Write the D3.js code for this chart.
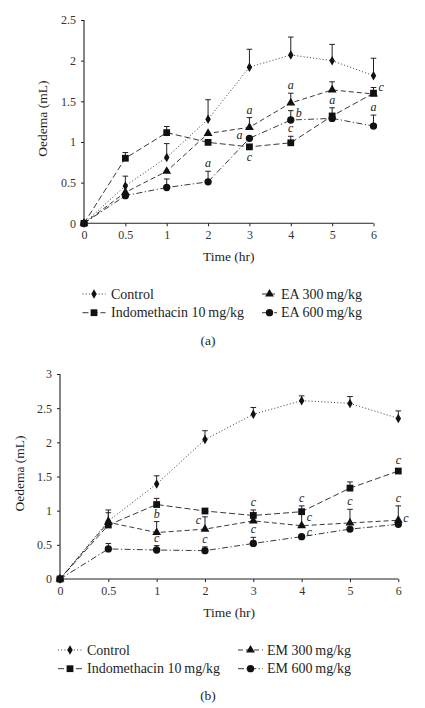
<!DOCTYPE html>
<html><head><meta charset="utf-8">
<script src="https://cdn.jsdelivr.net/npm/d3@7"></script>
<style>body{margin:0;background:#fff}svg{display:block}</style>
</head><body><svg id="c" width="425" height="708"></svg>
<script>
const timeLabels = ["0","0.5","1","2","3","4","5","6"];
const yTicksA = [0,0.5,1,1.5,2,2.5];
const yTicksB = [0,0.5,1,1.5,2,2.5,3];

// Panel (a)
const a_control     = [0,0.46,0.81,1.28,1.92,2.07,2.00,1.815];
const a_control_err = [0,0.12,0.17,0.24,0.22,0.22,0.20,0.215];
const a_indo        = [0,0.80,1.115,0.995,0.94,0.99,1.32,1.60];
const a_indo_err    = [0,0.07,0.075,0,0,0.08,0.10,0.07];
const a_ea300       = [0,0.38,0.64,1.105,1.18,1.48,1.64,1.59];
const a_ea300_err   = [0,0,0,0,0.12,0.12,0.10,0];
const a_ea600       = [0,0.34,0.44,0.51,1.045,1.27,1.29,1.196];
const a_ea600_err   = [0,0,0.105,0.13,0,0.115,0.06,0.135];
const a_names = ["Control","Indomethacin 10\u2009mg/kg","EA 300\u2009mg/kg","EA 600\u2009mg/kg"];
// annotations: [series index, time label, letter, placement]
const a_notes = [[3,"2","a","above"],[2,"3","a","above"],[3,"3","a","left"],[1,"3","c","below"],
  [2,"4","a","above"],[3,"4","b","right"],[1,"4","c","above"],[1,"5","a","above"],
  [1,"6","c","right"],[3,"6","a","above"]];

// Panel (b)
const b_control     = [0,0.85,1.39,2.04,2.41,2.61,2.57,2.35];
const b_control_err = [0,0.16,0.12,0.13,0.10,0.07,0.10,0.11];
const b_indo        = [0,0.79,1.09,0.995,0.93,0.985,1.33,1.58];
const b_indo_err    = [0,0.04,0.09,0,0.08,0.085,0.09,0];
const b_em300       = [0,0.83,0.68,0.73,0.85,0.78,0.82,0.86];
const b_em300_err   = [0,0.14,0.16,0.18,0,0.20,0.20,0.21];
const b_em600       = [0,0.44,0.424,0.415,0.52,0.62,0.73,0.80];
const b_em600_err   = [0,0.08,0.065,0.055,0.09,0,0,0];
const b_names = ["Control","Indomethacin 10\u2009mg/kg","EM 300\u2009mg/kg","EM 600\u2009mg/kg"];
const b_notes = [[2,"1","b","above"],[3,"1","c","above"],[2,"2","c","left"],[3,"2","c","above"],
  [1,"3","c","above"],[3,"3","c","above"],[1,"4","c","above"],[2,"4","c","rightHigh"],[3,"4","c","rightLow"],
  [2,"5","c","above"],[1,"6","c","above"],[2,"6","c","above"],[3,"6","c","right"]];

const styles = [
  {dash:"1,2.2", marker:"diamond"},
  {dash:"6,3", marker:"square"},
  {dash:"5,3", marker:"triangle"},
  {dash:"6,2.5,1.2,2.5", marker:"circle"}
];
const symMap = {diamond:d3.symbolDiamond, square:d3.symbolSquare, triangle:d3.symbolTriangle, circle:d3.symbolCircle};
const symSize = {diamond:26, square:46, triangle:34, circle:42};
const SERIF = '"Liberation Serif","Times New Roman","DejaVu Serif",serif';

const svg = d3.select("#c");

function txt(g){ return g.append("text").style("font-family",SERIF).style("fill","#1e1e1e"); }

function panel(cfg){
  const g = svg.append("g");
  const x = d3.scalePoint().domain(timeLabels).range([cfg.x0,cfg.x1]);
  const y = d3.scaleLinear().domain([0,cfg.ymax]).range([cfg.y0,cfg.y1]);
  const series = cfg.vals.map((v,i)=>({v, e:cfg.errs[i], st:styles[i]}));
  // axes
  const ya = g.append("g").attr("transform",`translate(${cfg.x0},0)`)
    .call(d3.axisLeft(y).tickValues(cfg.yticks).tickSize(3).tickPadding(5).tickFormat(d3.format("")));
  const xa = g.append("g").attr("transform",`translate(0,${cfg.y0})`)
    .call(d3.axisBottom(x).tickSize(3).tickPadding(4));
  [ya,xa].forEach(a=>{
    a.select(".domain").attr("stroke","#222").attr("stroke-width",1.1);
    a.selectAll(".tick line").attr("stroke","#222");
    a.selectAll(".tick text").style("font-size","12px").style("font-family",SERIF).style("fill","#333");
  });
  ya.select(".domain").attr("d",`M0,${cfg.y0}V${cfg.y1}`);
  xa.select(".domain").attr("d",`M${cfg.x0},0H${cfg.x1}`);
  // titles
  txt(g).attr("x",(cfg.x0+cfg.x1)/2).attr("y",cfg.y0+38).attr("text-anchor","middle")
    .style("font-size","13.5px").text("Time (hr)");
  txt(g).attr("transform",`translate(${cfg.ytx},${(cfg.y0+cfg.y1)/2-3}) rotate(-90)`)
    .attr("text-anchor","middle").style("font-size","13.5px").text("Oedema (mL)");
  // lines
  const line = d3.line().x((d,i)=>x(timeLabels[i])).y(d=>y(d));
  series.forEach(s=>{
    g.append("path").attr("d",line(s.v)).attr("fill","none").attr("stroke","#222")
      .attr("stroke-width",0.9).attr("stroke-dasharray",s.st.dash);
  });
  // error bars
  series.forEach(s=>{
    s.v.forEach((v,i)=>{
      if(!s.e[i]) return;
      const cx = x(timeLabels[i]), top = y(v+s.e[i]);
      g.append("line").attr("x1",cx).attr("x2",cx).attr("y1",y(v)).attr("y2",top).attr("stroke","#222").attr("stroke-width",1);
      g.append("line").attr("x1",cx-2.8).attr("x2",cx+2.8).attr("y1",top).attr("y2",top).attr("stroke","#222").attr("stroke-width",1);
    });
  });
  // markers
  series.forEach(s=>{
    g.selectAll(null).data(s.v).enter().append("path")
      .attr("d",d3.symbol(symMap[s.st.marker],symSize[s.st.marker]))
      .attr("transform",(d,i)=>`translate(${x(timeLabels[i])},${y(d)})`).attr("fill","#111");
  });
  // annotations
  cfg.notes.forEach(([si,t,letter,pos])=>{
    const s = series[si], i = timeLabels.indexOf(t);
    const cx = x(t), py = y(s.v[i]), top = y(s.v[i]+s.e[i]);
    let tx=cx, ty, anchor="middle";
    if(pos==="above"){ ty = top - (s.e[i]?4:7); }
    else if(pos==="below"){ ty = py + 14; }
    else if(pos==="left"){ anchor="end"; if(cfg.id==="a"){tx=cx-7; ty=py+1;} else {tx=cx-4; ty=py-5.5;} }
    else if(pos==="rightHigh"){ tx = cx+5; ty = py-4.5; anchor="start"; }
    else if(pos==="rightLow"){ tx = cx+5; ty = py-0.5; anchor="start"; }
    else { tx = cx+5; ty = py - (letter==="b"?3:2); anchor="start"; }
    txt(g).attr("x",tx).attr("y",ty).attr("text-anchor",anchor)
      .style("font-size","12px").style("font-style","italic").style("fill","#222").text(letter);
  });
  // legend
  const order = [[0,0,0],[2,1,0],[1,0,1],[3,1,1]];
  order.forEach(([si,col,row])=>{
    const mx = cfg.legX[col], my = cfg.legY + row*18.7, hw = cfg.legW[col];
    g.append("line").attr("x1",mx-hw).attr("x2",mx+hw).attr("y1",my).attr("y2",my)
      .attr("stroke","#222").attr("stroke-width",0.9).attr("stroke-dasharray",styles[si].dash);
    g.append("path").attr("d",d3.symbol(symMap[styles[si].marker],symSize[styles[si].marker])())
      .attr("transform",`translate(${mx},${my})`).attr("fill","#111");
    txt(g).attr("x",cfg.legT[col]).attr("y",my+4.6).style("font-size","14px").text(cfg.names[si]);
  });
  txt(g).attr("x",208).attr("y",cfg.capY).attr("text-anchor","middle").style("font-size","13.5px").text(cfg.cap);
}

panel({id:"a", x0:84, x1:373.5, y0:223.3, y1:20, ymax:2.5, yticks:yTicksA, ytx:47,
  vals:[a_control,a_indo,a_ea300,a_ea600], errs:[a_control_err,a_indo_err,a_ea300_err,a_ea600_err],
  notes:a_notes, names:a_names, legX:[94,269.5], legW:[11.5,7.5], legT:[111,281], legY:294, capY:344.5, cap:"(a)"});
panel({id:"b", x0:60, x1:398.3, y0:579, y1:374, ymax:3, yticks:yTicksB, ytx:24,
  vals:[b_control,b_indo,b_em300,b_em600], errs:[b_control_err,b_indo_err,b_em300_err,b_em600_err],
  notes:b_notes, names:b_names, legX:[70,250.5], legW:[12,12.5], legT:[87,267], legY:650, capY:699.5, cap:"(b)"});
</script></body></html>
